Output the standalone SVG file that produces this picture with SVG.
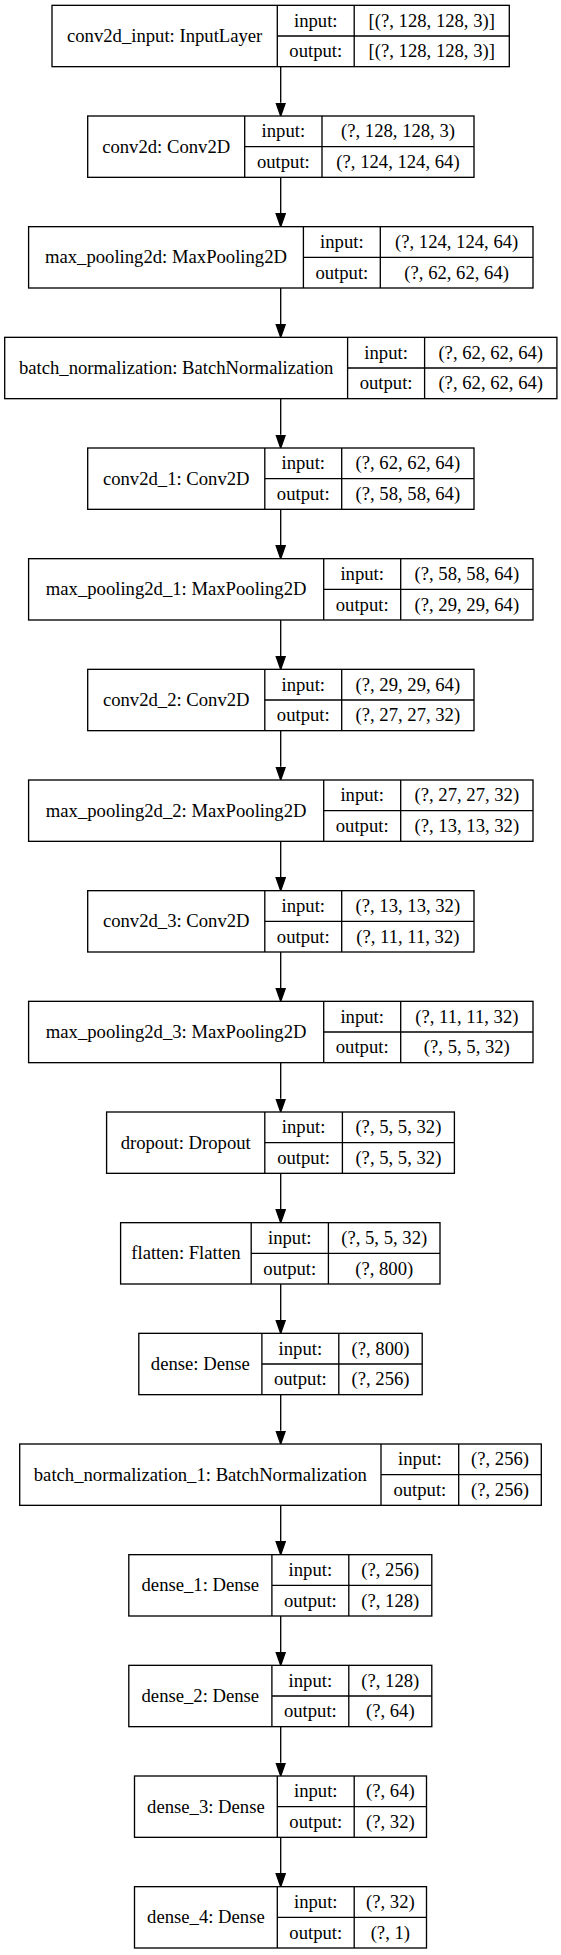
<svg xmlns="http://www.w3.org/2000/svg" width="561" height="1955" viewBox="0 0 561 1955">
<style>
.box{fill:#fff;stroke:#000;stroke-width:1.33}
.ln{stroke:#000;stroke-width:1.33;fill:none}
text{font-family:"Liberation Serif","Times New Roman",serif;font-size:18.67px;fill:#000;text-anchor:middle}
.edge{stroke:#000;stroke-width:1.33;fill:none;marker-end:url(#ah)}
</style>
<defs>
<marker id="ah" markerUnits="userSpaceOnUse" viewBox="0 -5.5 15 11" markerWidth="15" markerHeight="11" refX="0" refY="0" orient="auto">
<path d="M0,-4.67 L13.33,0 L0,4.67 Z" fill="#000" stroke="#000" stroke-width="1.33"/>
</marker>
</defs>
<rect x="0" y="0" width="561" height="1955" fill="#fff"/>
<g id="connectors">
<line class="edge" x1="280.7" y1="66.67" x2="280.7" y2="102.67"/>
<line class="edge" x1="280.7" y1="177.33" x2="280.7" y2="213.33"/>
<line class="edge" x1="280.7" y1="288" x2="280.7" y2="324"/>
<line class="edge" x1="280.7" y1="398.67" x2="280.7" y2="434.67"/>
<line class="edge" x1="280.7" y1="509.33" x2="280.7" y2="545.33"/>
<line class="edge" x1="280.7" y1="620" x2="280.7" y2="656"/>
<line class="edge" x1="280.7" y1="730.67" x2="280.7" y2="766.67"/>
<line class="edge" x1="280.7" y1="841.33" x2="280.7" y2="877.33"/>
<line class="edge" x1="280.7" y1="952" x2="280.7" y2="988"/>
<line class="edge" x1="280.7" y1="1062.67" x2="280.7" y2="1098.67"/>
<line class="edge" x1="280.7" y1="1173.33" x2="280.7" y2="1209.33"/>
<line class="edge" x1="280.7" y1="1284" x2="280.7" y2="1320"/>
<line class="edge" x1="280.7" y1="1394.67" x2="280.7" y2="1430.67"/>
<line class="edge" x1="280.7" y1="1505.33" x2="280.7" y2="1541.33"/>
<line class="edge" x1="280.7" y1="1616" x2="280.7" y2="1652"/>
<line class="edge" x1="280.7" y1="1726.67" x2="280.7" y2="1762.67"/>
<line class="edge" x1="280.7" y1="1837.33" x2="280.7" y2="1873.33"/>
</g>

<g id="conv2d_input" transform="translate(0,5.33)">
<rect class="box" x="52" y="0" width="457.3" height="61.33"/>
<line class="ln" x1="277.3" y1="0" x2="277.3" y2="61.33"/><line class="ln" x1="354.2" y1="0" x2="354.2" y2="61.33"/><line class="ln" x1="277.3" y1="30.67" x2="509.3" y2="30.67"/>
<text x="164.65" y="36.67">conv2d_input: InputLayer</text>
<text x="315.75" y="21.33">input:</text><text x="315.75" y="52">output:</text>
<text x="431.75" y="21.33">[(?, 128, 128, 3)]</text><text x="431.75" y="52">[(?, 128, 128, 3)]</text>
</g>

<g id="conv2d" transform="translate(0,116)">
<rect class="box" x="87.7" y="0" width="386.3" height="61.33"/>
<line class="ln" x1="244.7" y1="0" x2="244.7" y2="61.33"/><line class="ln" x1="322" y1="0" x2="322" y2="61.33"/><line class="ln" x1="244.7" y1="30.67" x2="474" y2="30.67"/>
<text x="166.2" y="36.67">conv2d: Conv2D</text>
<text x="283.35" y="21.33">input:</text><text x="283.35" y="52">output:</text>
<text x="398" y="21.33">(?, 128, 128, 3)</text><text x="398" y="52">(?, 124, 124, 64)</text>
</g>

<g id="max_pooling2d" transform="translate(0,226.67)">
<rect class="box" x="28.6" y="0" width="504.4" height="61.33"/>
<line class="ln" x1="303.4" y1="0" x2="303.4" y2="61.33"/><line class="ln" x1="380.3" y1="0" x2="380.3" y2="61.33"/><line class="ln" x1="303.4" y1="30.67" x2="533" y2="30.67"/>
<text x="166" y="36.67">max_pooling2d: MaxPooling2D</text>
<text x="341.85" y="21.33">input:</text><text x="341.85" y="52">output:</text>
<text x="456.65" y="21.33">(?, 124, 124, 64)</text><text x="456.65" y="52">(?, 62, 62, 64)</text>
</g>

<g id="batch_normalization" transform="translate(0,337.33)">
<rect class="box" x="4.7" y="0" width="552.2" height="61.33"/>
<line class="ln" x1="347.6" y1="0" x2="347.6" y2="61.33"/><line class="ln" x1="424.6" y1="0" x2="424.6" y2="61.33"/><line class="ln" x1="347.6" y1="30.67" x2="556.9" y2="30.67"/>
<text x="176.15" y="36.67">batch_normalization: BatchNormalization</text>
<text x="386.1" y="21.33">input:</text><text x="386.1" y="52">output:</text>
<text x="490.75" y="21.33">(?, 62, 62, 64)</text><text x="490.75" y="52">(?, 62, 62, 64)</text>
</g>

<g id="conv2d_1" transform="translate(0,448)">
<rect class="box" x="87.7" y="0" width="386.3" height="61.33"/>
<line class="ln" x1="264.8" y1="0" x2="264.8" y2="61.33"/><line class="ln" x1="341.7" y1="0" x2="341.7" y2="61.33"/><line class="ln" x1="264.8" y1="30.67" x2="474" y2="30.67"/>
<text x="176.25" y="36.67">conv2d_1: Conv2D</text>
<text x="303.25" y="21.33">input:</text><text x="303.25" y="52">output:</text>
<text x="407.85" y="21.33">(?, 62, 62, 64)</text><text x="407.85" y="52">(?, 58, 58, 64)</text>
</g>

<g id="max_pooling2d_1" transform="translate(0,558.67)">
<rect class="box" x="28.6" y="0" width="504.4" height="61.33"/>
<line class="ln" x1="323.7" y1="0" x2="323.7" y2="61.33"/><line class="ln" x1="400.7" y1="0" x2="400.7" y2="61.33"/><line class="ln" x1="323.7" y1="30.67" x2="533" y2="30.67"/>
<text x="176.15" y="36.67">max_pooling2d_1: MaxPooling2D</text>
<text x="362.2" y="21.33">input:</text><text x="362.2" y="52">output:</text>
<text x="466.85" y="21.33">(?, 58, 58, 64)</text><text x="466.85" y="52">(?, 29, 29, 64)</text>
</g>

<g id="conv2d_2" transform="translate(0,669.33)">
<rect class="box" x="87.7" y="0" width="386.3" height="61.33"/>
<line class="ln" x1="264.8" y1="0" x2="264.8" y2="61.33"/><line class="ln" x1="341.7" y1="0" x2="341.7" y2="61.33"/><line class="ln" x1="264.8" y1="30.67" x2="474" y2="30.67"/>
<text x="176.25" y="36.67">conv2d_2: Conv2D</text>
<text x="303.25" y="21.33">input:</text><text x="303.25" y="52">output:</text>
<text x="407.85" y="21.33">(?, 29, 29, 64)</text><text x="407.85" y="52">(?, 27, 27, 32)</text>
</g>

<g id="max_pooling2d_2" transform="translate(0,780)">
<rect class="box" x="28.6" y="0" width="504.4" height="61.33"/>
<line class="ln" x1="323.7" y1="0" x2="323.7" y2="61.33"/><line class="ln" x1="400.7" y1="0" x2="400.7" y2="61.33"/><line class="ln" x1="323.7" y1="30.67" x2="533" y2="30.67"/>
<text x="176.15" y="36.67">max_pooling2d_2: MaxPooling2D</text>
<text x="362.2" y="21.33">input:</text><text x="362.2" y="52">output:</text>
<text x="466.85" y="21.33">(?, 27, 27, 32)</text><text x="466.85" y="52">(?, 13, 13, 32)</text>
</g>

<g id="conv2d_3" transform="translate(0,890.67)">
<rect class="box" x="87.7" y="0" width="386.3" height="61.33"/>
<line class="ln" x1="264.8" y1="0" x2="264.8" y2="61.33"/><line class="ln" x1="341.7" y1="0" x2="341.7" y2="61.33"/><line class="ln" x1="264.8" y1="30.67" x2="474" y2="30.67"/>
<text x="176.25" y="36.67">conv2d_3: Conv2D</text>
<text x="303.25" y="21.33">input:</text><text x="303.25" y="52">output:</text>
<text x="407.85" y="21.33">(?, 13, 13, 32)</text><text x="407.85" y="52">(?, 11, 11, 32)</text>
</g>

<g id="max_pooling2d_3" transform="translate(0,1001.33)">
<rect class="box" x="28.6" y="0" width="504.4" height="61.33"/>
<line class="ln" x1="323.7" y1="0" x2="323.7" y2="61.33"/><line class="ln" x1="400.7" y1="0" x2="400.7" y2="61.33"/><line class="ln" x1="323.7" y1="30.67" x2="533" y2="30.67"/>
<text x="176.15" y="36.67">max_pooling2d_3: MaxPooling2D</text>
<text x="362.2" y="21.33">input:</text><text x="362.2" y="52">output:</text>
<text x="466.85" y="21.33">(?, 11, 11, 32)</text><text x="466.85" y="52">(?, 5, 5, 32)</text>
</g>

<g id="dropout" transform="translate(0,1112)">
<rect class="box" x="106.6" y="0" width="347.8" height="61.33"/>
<line class="ln" x1="264.8" y1="0" x2="264.8" y2="61.33"/><line class="ln" x1="342.4" y1="0" x2="342.4" y2="61.33"/><line class="ln" x1="264.8" y1="30.67" x2="454.4" y2="30.67"/>
<text x="185.7" y="36.67">dropout: Dropout</text>
<text x="303.6" y="21.33">input:</text><text x="303.6" y="52">output:</text>
<text x="398.4" y="21.33">(?, 5, 5, 32)</text><text x="398.4" y="52">(?, 5, 5, 32)</text>
</g>

<g id="flatten" transform="translate(0,1222.67)">
<rect class="box" x="120.6" y="0" width="319.4" height="61.33"/>
<line class="ln" x1="251.2" y1="0" x2="251.2" y2="61.33"/><line class="ln" x1="328.4" y1="0" x2="328.4" y2="61.33"/><line class="ln" x1="251.2" y1="30.67" x2="440" y2="30.67"/>
<text x="185.9" y="36.67">flatten: Flatten</text>
<text x="289.8" y="21.33">input:</text><text x="289.8" y="52">output:</text>
<text x="384.2" y="21.33">(?, 5, 5, 32)</text><text x="384.2" y="52">(?, 800)</text>
</g>

<g id="dense" transform="translate(0,1333.33)">
<rect class="box" x="138.8" y="0" width="283.4" height="61.33"/>
<line class="ln" x1="261.9" y1="0" x2="261.9" y2="61.33"/><line class="ln" x1="338.8" y1="0" x2="338.8" y2="61.33"/><line class="ln" x1="261.9" y1="30.67" x2="422.2" y2="30.67"/>
<text x="200.35" y="36.67">dense: Dense</text>
<text x="300.35" y="21.33">input:</text><text x="300.35" y="52">output:</text>
<text x="380.5" y="21.33">(?, 800)</text><text x="380.5" y="52">(?, 256)</text>
</g>

<g id="batch_normalization_1" transform="translate(0,1444)">
<rect class="box" x="19.7" y="0" width="521.6" height="61.33"/>
<line class="ln" x1="381" y1="0" x2="381" y2="61.33"/><line class="ln" x1="458.7" y1="0" x2="458.7" y2="61.33"/><line class="ln" x1="381" y1="30.67" x2="541.3" y2="30.67"/>
<text x="200.35" y="36.67">batch_normalization_1: BatchNormalization</text>
<text x="419.85" y="21.33">input:</text><text x="419.85" y="52">output:</text>
<text x="500" y="21.33">(?, 256)</text><text x="500" y="52">(?, 256)</text>
</g>

<g id="dense_1" transform="translate(0,1554.67)">
<rect class="box" x="128.8" y="0" width="303" height="61.33"/>
<line class="ln" x1="271.9" y1="0" x2="271.9" y2="61.33"/><line class="ln" x1="348.8" y1="0" x2="348.8" y2="61.33"/><line class="ln" x1="271.9" y1="30.67" x2="431.8" y2="30.67"/>
<text x="200.35" y="36.67">dense_1: Dense</text>
<text x="310.35" y="21.33">input:</text><text x="310.35" y="52">output:</text>
<text x="390.3" y="21.33">(?, 256)</text><text x="390.3" y="52">(?, 128)</text>
</g>

<g id="dense_2" transform="translate(0,1665.33)">
<rect class="box" x="128.8" y="0" width="303" height="61.33"/>
<line class="ln" x1="271.9" y1="0" x2="271.9" y2="61.33"/><line class="ln" x1="348.8" y1="0" x2="348.8" y2="61.33"/><line class="ln" x1="271.9" y1="30.67" x2="431.8" y2="30.67"/>
<text x="200.35" y="36.67">dense_2: Dense</text>
<text x="310.35" y="21.33">input:</text><text x="310.35" y="52">output:</text>
<text x="390.3" y="21.33">(?, 128)</text><text x="390.3" y="52">(?, 64)</text>
</g>

<g id="dense_3" transform="translate(0,1776)">
<rect class="box" x="134.5" y="0" width="292" height="61.33"/>
<line class="ln" x1="277.3" y1="0" x2="277.3" y2="61.33"/><line class="ln" x1="354.2" y1="0" x2="354.2" y2="61.33"/><line class="ln" x1="277.3" y1="30.67" x2="426.5" y2="30.67"/>
<text x="205.9" y="36.67">dense_3: Dense</text>
<text x="315.75" y="21.33">input:</text><text x="315.75" y="52">output:</text>
<text x="390.35" y="21.33">(?, 64)</text><text x="390.35" y="52">(?, 32)</text>
</g>

<g id="dense_4" transform="translate(0,1886.67)">
<rect class="box" x="134.5" y="0" width="292" height="61.33"/>
<line class="ln" x1="277.3" y1="0" x2="277.3" y2="61.33"/><line class="ln" x1="354.2" y1="0" x2="354.2" y2="61.33"/><line class="ln" x1="277.3" y1="30.67" x2="426.5" y2="30.67"/>
<text x="205.9" y="36.67">dense_4: Dense</text>
<text x="315.75" y="21.33">input:</text><text x="315.75" y="52">output:</text>
<text x="390.35" y="21.33">(?, 32)</text><text x="390.35" y="52">(?, 1)</text>
</g>
</svg>
